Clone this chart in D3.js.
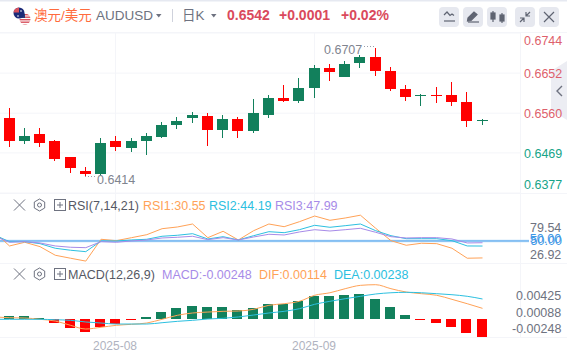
<!DOCTYPE html>
<html>
<head>
<meta charset="utf-8">
<script src="https://cdn.jsdelivr.net/npm/d3@7"></script>
<style>
    html, body { margin: 0; padding: 0; background: #ffffff; overflow: hidden; }
    text { font-family: "Liberation Sans", Arial, "Noto Sans CJK SC", sans-serif; }
</style>
</head>
<body>
<svg id="chart" width="567" height="358"></svg>
<script>
// daily candles
var candleOpen = [0.65467, 0.6494, 0.651, 0.6494, 0.64573, 0.64252, 0.64183, 0.6494, 0.64779, 0.6494, 0.65032, 0.65307, 0.65467, 0.65513, 0.65192, 0.65444, 0.65169, 0.65536, 0.65926, 0.65857, 0.66156, 0.66614, 0.66408, 0.66729, 0.66867, 0.66545, 0.66133, 0.65983, 0.65995, 0.65995, 0.65834, 0.6541];
var candleClose = [0.6494, 0.65055, 0.64894, 0.64527, 0.6432, 0.64183, 0.64894, 0.64802, 0.6494, 0.65055, 0.65307, 0.65399, 0.65536, 0.65192, 0.65444, 0.65169, 0.65582, 0.65926, 0.65857, 0.66156, 0.66614, 0.66523, 0.66706, 0.66867, 0.66545, 0.66133, 0.65949, 0.65995, 0.65983, 0.65834, 0.65399, 0.6542];
var candleHigh = [0.65704, 0.65238, 0.65238, 0.64963, 0.64573, 0.64343, 0.65009, 0.65055, 0.65009, 0.65123, 0.65376, 0.6549, 0.65605, 0.65582, 0.65536, 0.6549, 0.65903, 0.65995, 0.66224, 0.66385, 0.66683, 0.66706, 0.66775, 0.66912, 0.6707, 0.66637, 0.66224, 0.66018, 0.66178, 0.66293, 0.66064, 0.65444];
var candleLow = [0.64802, 0.64871, 0.64802, 0.64481, 0.64206, 0.6414, 0.64155, 0.6471, 0.64688, 0.64619, 0.65009, 0.65215, 0.65353, 0.64825, 0.65009, 0.65009, 0.65123, 0.65467, 0.65834, 0.65811, 0.65926, 0.66316, 0.66408, 0.66614, 0.66431, 0.66087, 0.65857, 0.65743, 0.65811, 0.65743, 0.65261, 0.65307];
var priceTicks = [0.6744, 0.6652, 0.656, 0.6469, 0.6377];
var priceTickShift = [8, 1, 1, 2, -8];

// indicators, first point is the day before the first candle
var rsi1 = [60.3, 44.28, 48.51, 43.48, 33.64, 30.21, 26.92, 51.95, 50.34, 53.78, 57.21, 64.07, 66.02, 69.45, 53.78, 61.1, 51.14, 61.78, 69.45, 66.36, 72.08, 78.6, 73.68, 76.32, 79.54, 64.53, 50.34, 45.08, 47.37, 46.91, 41.65, 30.21, 30.55];
var rsi2 = [56.9, 49.2, 49.2, 46.91, 41.65, 39.36, 37.76, 50, 50, 51.14, 51.95, 55.38, 56.52, 58.35, 52.29, 54.92, 51.14, 56.06, 60.64, 59.5, 62.93, 67.96, 65.68, 67.5, 69.45, 61.78, 56.06, 52.63, 52.63, 52.63, 50.34, 44.28, 44.19];
var rsi3 = [55.7, 48.51, 49.2, 47.71, 44.28, 42.79, 42.33, 49.2, 48.51, 50, 51.14, 53.43, 54.23, 55.38, 51.49, 53.78, 51.14, 54.58, 57.67, 56.86, 60.3, 62.93, 61.44, 62.93, 64.53, 59.95, 54.92, 53.43, 53.78, 53.78, 52.29, 47.71, 47.99];
var rsiTicks = ["79.54", "50.00", "50.00", "26.92"];

var macdBars = [0.00041, 0.00041, 0.00014, -0.00055, -0.00124, -0.00179, -0.0011, -0.00069, -0.00014, 0.00028, 0.00096, 0.00152, 0.00179, 0.00165, 0.00165, 0.00124, 0.00152, 0.00207, 0.00207, 0.00248, 0.00317, 0.00317, 0.00331, 0.00344, 0.00276, 0.00165, 0.00055, -0.00014, -0.00055, -0.0011, -0.00193, -0.00248];
var difLine = [0.00028, 0.00018, 0.00014, -0.00004, -0.00028, -0.00087, -0.00138, -0.00114, -0.00087, -0.00073, -0.00055, -0.00004, 0.00051, 0.00083, 0.00096, 0.00106, 0.0011, 0.00134, 0.00189, 0.00211, 0.00244, 0.00327, 0.00362, 0.00418, 0.00464, 0.00473, 0.00418, 0.00372, 0.00349, 0.00327, 0.00271, 0.00211, 0.00147];
var deaLine = [-0.00004, -0.00004, -0.00004, -0.00004, -0.0001, -0.00018, -0.00041, -0.00055, -0.00069, -0.00069, -0.00069, -0.00051, -0.00032, -0.00018, 0, 0.0001, 0.00028, 0.00055, 0.00083, 0.00106, 0.00142, 0.00203, 0.00244, 0.0028, 0.00313, 0.00345, 0.00362, 0.00368, 0.00362, 0.00349, 0.00335, 0.00313, 0.00276];
var macdTicks = ["0.00425", "0.00088", "-0.00248"];

var monthLabels = ["2025-08", "2025-09"];
var monthIndex = [7, 20];

// colors
var upColor = "#12805c";
var downColor = "#ff0000";
var gridColor = "#f4f5f9";
var orange = "#ffa257";
var cyan = "#2cc0e0";
var purple = "#a78be8";
var greyText = "#6e7280";

var svg = d3.select("#chart");

var x = d3.scaleLinear().domain([0, 31]).range([9, 482]);
var yPrice = d3.scaleLinear().domain([0.6377, 0.6744]).range([192, 32]);
var yRsi = d3.scaleLinear().domain([26.92, 79.54]).range([261.1, 215.2]);
var yMacd = d3.scaleLinear().domain([-0.00248, 0.00473]).range([337, 284.7]);

// top strip of the page
svg.append("rect").attr("x", 0).attr("y", 0).attr("width", 567).attr("height", 1.5).attr("fill", "#e6e9f1");

// grid
var gridLines = [32, 263, 337, 193];
svg.selectAll(".pane-line")
    .data(gridLines)
    .enter().append("line")
        .attr("class", "pane-line")
        .attr("x1", 0).attr("x2", 567)
        .attr("y1", function(d) { return d + 0.5; })
        .attr("y2", function(d) { return d + 0.5; })
        .attr("stroke", gridColor)
;

var gridAxis = d3.axisLeft(yPrice).tickValues(priceTicks).tickSize(520).tickFormat("");
svg.append("g")
    .attr("transform", "translate(520,0.5)")
    .call(gridAxis)
    .call(function(g) { g.select(".domain").remove(); })
    .selectAll("line").attr("stroke", gridColor)
;

svg.selectAll(".month-line")
    .data(monthIndex)
    .enter().append("line")
        .attr("class", "month-line")
        .attr("x1", function(d) { return Math.floor(x(d)) + 0.5; })
        .attr("x2", function(d) { return Math.floor(x(d)) + 0.5; })
        .attr("y1", 32).attr("y2", 337)
        .attr("stroke", gridColor)
;

svg.append("line").attr("x1", 520.5).attr("x2", 520.5).attr("y1", 32).attr("y2", 337).attr("stroke", gridColor);

// collapse tab on the right
svg.append("path").attr("d", "M567,61L551,71V110L567,120Z").attr("fill", "#ecedf3");
svg.append("path").attr("d", "M562,86L557,91L562,96").attr("fill", "none").attr("stroke", "#6e7280").attr("stroke-width", 1.4);

// candles
var candles = svg.append("g").selectAll("g")
    .data(candleOpen)
    .enter().append("g")
;

function candleColor(i) {
    return candleClose[i] >= candleOpen[i] ? upColor : downColor;
}

candles.append("line")
    .attr("x1", function(d, i) { return Math.floor(x(i)) + 0.5; })
    .attr("x2", function(d, i) { return Math.floor(x(i)) + 0.5; })
    .attr("y1", function(d, i) { return yPrice(candleHigh[i]); })
    .attr("y2", function(d, i) { return yPrice(candleLow[i]); })
    .attr("stroke", function(d, i) { return candleColor(i); })
    .attr("shape-rendering", "crispEdges")
;

candles.append("rect")
    .attr("x", function(d, i) { return Math.floor(x(i)) - 5; })
    .attr("width", 11)
    .attr("y", function(d, i) { return yPrice(Math.max(candleOpen[i], candleClose[i])); })
    .attr("height", function(d, i) {
        return Math.max(1, Math.abs(yPrice(candleOpen[i]) - yPrice(candleClose[i])));
    })
    .attr("fill", function(d, i) { return candleColor(i); })
    .attr("shape-rendering", "crispEdges")
;

// price axis, the labels sit a bit off their grid lines
var priceAxis = d3.axisRight(yPrice).tickValues(priceTicks).tickSize(0).tickFormat(d3.format(".4f"));
svg.append("g")
    .attr("transform", "translate(520,0)")
    .call(priceAxis)
    .call(function(g) { g.select(".domain").remove(); })
    .selectAll("text")
        .attr("x", 4)
        .attr("y", function(d, i) { return priceTickShift[i]; })
        .attr("font-size", 12.5)
        .attr("font-family", "Liberation Sans")
        .attr("fill", function(d, i) { return i < 3 ? "#de5f6c" : "#16a488"; })
;

// extreme labels
function note(label, px, py, dotsX, dotsY) {
    svg.append("text").attr("x", px).attr("y", py).attr("font-size", 12.5).attr("fill", "#80848f").text(label);
    svg.append("line")
        .attr("x1", dotsX).attr("x2", dotsX + 11)
        .attr("y1", dotsY).attr("y2", dotsY)
        .attr("stroke", "#9a9eaa").attr("stroke-dasharray", "1 2")
    ;
}
note(d3.format(".4f")(d3.max(candleHigh)), 324, 54, 364, 46.5);
note(d3.format(".4f")(d3.min(candleLow)), 97, 184, 85, 176.5);

// RSI pane
var line = function(scale) {
    return d3.line()
        .x(function(d, i) { return x(i - 1) + 0.5; })
        .y(function(d) { return scale(d); });
};

svg.append("line").attr("x1", 0).attr("x2", 529).attr("y1", yRsi(50)).attr("y2", yRsi(50)).attr("stroke", "#b8dcf8").attr("stroke-width", 2.5);
svg.append("line").attr("x1", 0).attr("x2", 529).attr("y1", yRsi(50)).attr("y2", yRsi(50)).attr("stroke", "#5aa8ee").attr("stroke-width", 1);

[[rsi1, orange], [rsi2, cyan], [rsi3, purple]].forEach(function(s) {
    svg.append("path")
        .datum(s[0])
        .attr("d", line(yRsi))
        .attr("fill", "none")
        .attr("stroke", s[1])
        .attr("stroke-width", 1)
    ;
});

var rsiLabelY = [232, 245, 243, 259];
var rsiLabelX = [530, 530.6, 529.8, 530];
var rsiLabelColor = [greyText, "#3f97e6", "#3f97e6", greyText];
svg.selectAll(".rsi-label")
    .data(rsiTicks)
    .enter().append("text")
        .attr("class", "rsi-label")
        .attr("x", function(d, i) { return rsiLabelX[i]; })
        .attr("y", function(d, i) { return rsiLabelY[i]; })
        .attr("font-size", 12.5)
        .attr("fill", function(d, i) { return rsiLabelColor[i]; })
        .text(function(d) { return d; })
;

// MACD pane
svg.append("g").selectAll("rect")
    .data(macdBars)
    .enter().append("rect")
        .attr("x", function(d, i) { return Math.floor(x(i)) - 5; })
        .attr("width", 10)
        .attr("y", function(d) { return Math.min(yMacd(d), yMacd(0)); })
        .attr("height", function(d) { return Math.max(1, Math.abs(yMacd(d) - yMacd(0))); })
        .attr("fill", function(d) { return d >= 0 ? upColor : downColor; })
        .attr("shape-rendering", "crispEdges")
;

[[difLine, orange], [deaLine, cyan]].forEach(function(s) {
    svg.append("path")
        .datum(s[0])
        .attr("d", line(yMacd).curve(d3.curveMonotoneX))
        .attr("fill", "none")
        .attr("stroke", s[1])
        .attr("stroke-width", 1)
    ;
});

var macdLabelY = [300, 317, 333];
var macdLabelX = [516, 516, 512];
svg.selectAll(".macd-label")
    .data(macdTicks)
    .enter().append("text")
        .attr("class", "macd-label")
        .attr("x", function(d, i) { return macdLabelX[i]; })
        .attr("y", function(d, i) { return macdLabelY[i]; })
        .attr("font-size", 12.5)
        .attr("fill", greyText)
        .text(function(d) { return d; })
;

// month labels
svg.selectAll(".month-label")
    .data(monthLabels)
    .enter().append("text")
        .attr("class", "month-label")
        .attr("x", function(d, i) { return Math.floor(x(monthIndex[i])); })
        .attr("y", 350)
        .attr("text-anchor", "middle")
        .attr("font-size", 12)
        .attr("fill", "#b0b3c0")
        .text(function(d) { return d; })
;

// pane legends
function paneIcons(cy) {
    var g = svg.append("g").attr("fill", "none").attr("stroke", "#6e7280").attr("stroke-width", 1);
    g.append("path").attr("d", "M14," + (cy - 5.5) + "l11,11m0,-11l-11,11");
    g.append("path").attr("d", "M39.5," + (cy - 6) + "l5.2,3v6l-5.2,3l-5.2,-3v-6z");
    g.append("circle").attr("cx", 39.5).attr("cy", cy).attr("r", 2);
    g.append("rect").attr("x", 54.5).attr("y", cy - 5.5).attr("width", 11).attr("height", 11);
    g.append("path").attr("d", "M57," + cy + "h6m-3,-3v6");
}
function legendText(label, px, py, color) {
    svg.append("text").attr("x", px).attr("y", py).attr("font-size", 12.5).attr("fill", color).text(label);
}
paneIcons(205);
paneIcons(274);
legendText("RSI(7,14,21)", 68, 209.5, "#555864");
legendText("RSI1:30.55", 143, 209.5, orange);
legendText("RSI2:44.19", 209, 209.5, cyan);
legendText("RSI3:47.99", 275, 209.5, purple);
legendText("MACD(12,26,9)", 68, 278.5, "#555864");
legendText("MACD:-0.00248", 162, 278.5, purple);
legendText("DIF:0.00114", 259, 278.5, orange);
legendText("DEA:0.00238", 334, 278.5, cyan);

// header
var defs = svg.append("defs");
defs.append("clipPath").attr("id", "flag-au").append("circle").attr("cx", 19).attr("cy", 13).attr("r", 5.5);
defs.append("clipPath").attr("id", "flag-us").append("circle").attr("cx", 25).attr("cy", 19).attr("r", 5.5);

var flagUs = svg.append("g").attr("clip-path", "url(#flag-us)");
flagUs.append("rect").attr("x", 19).attr("y", 13).attr("width", 12).attr("height", 12).attr("fill", "#ffffff");
[14, 16.5, 19, 21.5, 24].forEach(function(s) {
    flagUs.append("rect").attr("x", 19).attr("y", s).attr("width", 12).attr("height", 1.4).attr("fill", "#d8505c");
});
flagUs.append("rect").attr("x", 19).attr("y", 13).attr("width", 6).attr("height", 5).attr("fill", "#2b3a78");

var flagAu = svg.append("g").attr("clip-path", "url(#flag-au)");
flagAu.append("rect").attr("x", 13).attr("y", 7).attr("width", 12).attr("height", 12).attr("fill", "#1c2a78");
flagAu.append("rect").attr("x", 13).attr("y", 7).attr("width", 6).attr("height", 5.5).attr("fill", "#d8505c");
flagAu.append("circle").attr("cx", 21).attr("cy", 11).attr("r", 0.8).attr("fill", "#ffffff");
flagAu.append("circle").attr("cx", 18).attr("cy", 16).attr("r", 0.8).attr("fill", "#ffffff");

function headerText(label, px, color, weight, size) {
    svg.append("text")
        .attr("x", px).attr("y", 20)
        .attr("font-size", size || 14)
        .attr("font-weight", weight || "normal")
        .attr("fill", color)
        .text(label);
}
headerText("澳元/美元", 34, "#ff6b3d", "normal", 13.5);
headerText("AUDUSD", 96, greyText, "normal", 13.5);
headerText("日K", 182, greyText, "normal", 13.5);
headerText("0.6542", 227, "#da4a5c", "bold");
headerText("+0.0001", 279, "#da4a5c", "bold");
headerText("+0.02%", 341, "#da4a5c", "bold");

[156, 211].forEach(function(cx) {
    svg.append("path").attr("d", "M" + cx + ",14h5.5l-2.75,3.5z").attr("fill", greyText);
});
svg.append("line").attr("x1", 172.5).attr("x2", 172.5).attr("y1", 9).attr("y2", 22).attr("stroke", "#cfd2dc");

// toolbar buttons
var buttonX = [439, 463, 487, 515, 539];
svg.selectAll(".toolbar-button")
    .data(buttonX)
    .enter().append("rect")
        .attr("class", "toolbar-button")
        .attr("x", function(d) { return d; })
        .attr("y", 7)
        .attr("width", 20).attr("height", 20)
        .attr("rx", 4)
        .attr("fill", "#e6e8ef")
;
var ic = svg.append("g").attr("fill", "none").attr("stroke", "#5f6472").attr("stroke-width", 1.2);
ic.append("path").attr("d", "M444,15l3,-3l3,3.5l2,-1.5l2,1.5");
ic.append("path").attr("d", "M444,21h11");
ic.append("path").attr("d", "M468,18l6,-6l3,2.5l-6,6l-3.5,.5z").attr("fill", "#5f6472");
ic.append("path").attr("d", "M468,22h11");
ic.append("path").attr("d", "M493,11v11M502,13v10");
ic.append("rect").attr("x", 491).attr("y", 13).attr("width", 4).attr("height", 6).attr("fill", "#5f6472");
ic.append("rect").attr("x", 500).attr("y", 15).attr("width", 4).attr("height", 6).attr("fill", "#5f6472");
ic.append("path").attr("d", "M520,22l4,-4M520,18h4v4M530,12l-4,4M526,12v4h4");
ic.append("path").attr("d", "M544,12l10,10m0,-10l-10,10");
</script>
</body>
</html>
